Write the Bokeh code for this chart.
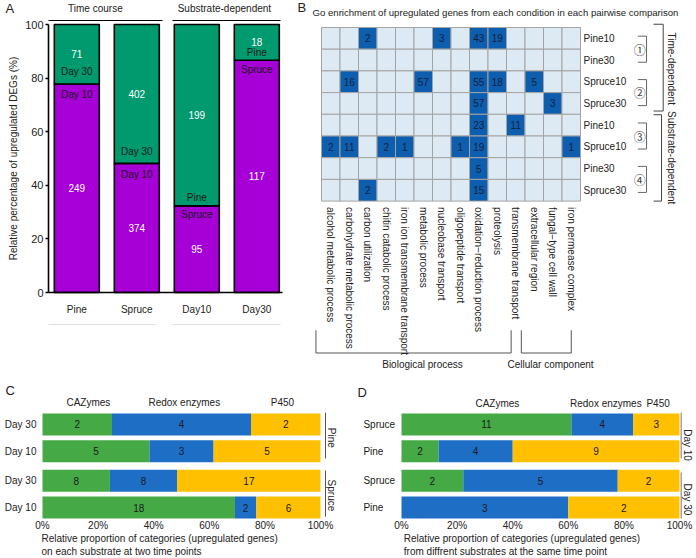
import math
from bokeh.plotting import figure
from bokeh.models import Range1d, LinearAxis, FixedTicker
from bokeh.layouts import column, row
from bokeh.embed import file_html
from bokeh.resources import INLINE
from bokeh.core.properties import value

# ---------------- data ----------------
# Panel A: counts of upregulated DEGs
a_groups = ["Pine", "Spruce", "Day10", "Day30"]
a_lower_names = ["Day 10", "Day 10", "Spruce", "Spruce"]
a_upper_names = ["Day 30", "Day 30", "Pine", "Pine"]
a_lower_counts = [249, 374, 95, 117]
a_upper_counts = [71, 402, 199, 18]
a_headers = ["Time course", "Substrate-dependent"]
a_ylabel = "Relative percentage of upregulated DEGs (%)"
a_yticks = [0, 20, 40, 60, 80, 100]

# Panel B: GO enrichment counts (0 = not enriched)
b_title = "Go enrichment of upregulated genes from each condition in each pairwise comparison"
go_terms = ["alcohol metabolic process", "carbohydrate metabolic process", "carbon utilization",
            "chitin catabolic process", "iron ion transmembrane transport", "metabolic process",
            "nucleobase transport", "oligopeptide transport", "oxidation\u2212reduction process",
            "proteolysis", "transmembrane transport", "extracellular region",
            "fungal\u2212type cell wall", "iron permease complex"]
b_rows = ["Pine10", "Pine30", "Spruce10", "Spruce30", "Pine10", "Spruce10", "Pine30", "Spruce30"]
cmp1_pine10   = [0, 0, 2, 0, 0, 0, 3, 0, 43, 19, 0, 0, 0, 0]
cmp1_pine30   = [0, 0, 0, 0, 0, 0, 0, 0, 0, 0, 0, 0, 0, 0]
cmp2_spruce10 = [0, 16, 0, 0, 0, 57, 0, 0, 55, 18, 0, 5, 0, 0]
cmp2_spruce30 = [0, 0, 0, 0, 0, 0, 0, 0, 57, 0, 0, 0, 3, 0]
cmp3_pine10   = [0, 0, 0, 0, 0, 0, 0, 0, 23, 0, 11, 0, 0, 0]
cmp3_spruce10 = [2, 11, 0, 2, 1, 0, 0, 1, 19, 0, 0, 0, 0, 1]
cmp4_pine30   = [0, 0, 0, 0, 0, 0, 0, 0, 5, 0, 0, 0, 0, 0]
cmp4_spruce30 = [0, 0, 2, 0, 0, 0, 0, 0, 15, 0, 0, 0, 0, 0]
b_comparisons = ["\u2460", "\u2461", "\u2462", "\u2463"]
b_blocks = ["Time-dependent", "Substrate-dependent"]
b_ontologies = ["Biological process", "Cellular component"]

# Panels C and D: enzyme classes
enzyme_classes = ["CAZymes", "Redox enzymes", "P450"]
c_rows = ["Day 30", "Day 10", "Day 30", "Day 10"]
c_groups = ["Pine", "Spruce"]
c_cazymes = [2, 5, 8, 18]
c_redox = [4, 3, 8, 2]
c_p450 = [2, 5, 17, 6]
c_caption = ["Relative proportion of categories (upregulated genes)",
             "on each substrate at two time points"]
d_rows = ["Spruce", "Pine", "Spruce", "Pine"]
d_groups = ["Day 10", "Day 30"]
d_cazymes = [11, 2, 2, 0]
d_redox = [4, 4, 5, 3]
d_p450 = [3, 9, 2, 2]
d_caption = ["Relative proportion of categories (upregulated genes)",
             "from diffrent substrates at the same time point"]
pct_ticks = [0, 20, 40, 60, 80, 100]

# ---------------- styles ----------------
FONT = value("Liberation Sans")
FS = "10px"
PURPLE = "#A600D6"
GREEN_A = "#009A6E"
GREEN = "#45AA45"
BLUE = "#1E6EC6"
YELLOW = "#FFC000"
LIGHT = "#DDEAF4"
DARK = "#0D5EAE"
TXT = "#222222"


def lin_range(ref_lo, ref_hi, ref_a, val_a, ref_b, val_b):
    k = (val_b - val_a) / (ref_b - ref_a)
    v1 = val_a + (ref_lo - ref_a) * k
    v2 = val_a + (ref_hi - ref_a) * k
    return Range1d(start=min(v1, v2), end=max(v1, v2))


def make_fig(x0, x1, y0, y1, xr, yr):
    p = figure(width=x1 - x0, height=y1 - y0,
               x_range=xr, y_range=yr, output_backend="svg", toolbar_location=None,
               x_axis_type=None, y_axis_type=None, min_border=0,
               min_border_left=0, min_border_right=0, min_border_top=0, min_border_bottom=0)
    p.outline_line_color = None
    p.background_fill_color = "white"
    p.border_fill_color = "white"
    return p


def txt(p, x, y, t, size=FS, color=TXT, align="center", baseline="middle",
        angle=0, yoff=0, font=FONT):
    p.text(x=x, y=y, text=t, text_font=font, text_font_size=value(size),
           text_color=color, text_align=align, text_baseline=baseline,
           angle=angle, y_offset=yoff)


def style_axis(ax, size=FS, standoff=4):
    ax.axis_line_color = None
    ax.major_tick_line_color = None
    ax.minor_tick_line_color = None
    ax.major_tick_out = 0
    ax.major_tick_in = 0
    ax.minor_tick_out = 0
    ax.minor_tick_in = 0
    ax.major_label_text_font = "Liberation Sans"
    ax.major_label_text_font_size = size
    ax.major_label_text_color = TXT
    ax.major_label_standoff = standoff


# ================= Panel A =================
axA_x = (48 - 76.3) / 60.0
axA_xend = (282 - 76.3) / 60.0
pA = make_fig(0, 295, 0, 382,
              lin_range(0, 295, 76.3, 0, 136.3, 1),
              lin_range(0, 382, 292, 0, 24, 100))
xa = list(range(len(a_groups)))
tot = [l + u for l, u in zip(a_lower_counts, a_upper_counts)]
lower_pct = [100.0 * l / t for l, t in zip(a_lower_counts, tot)]
pA.vbar(x=xa, bottom=0, top=lower_pct, width=0.75, fill_color=PURPLE,
        line_color="black", line_width=1.6)
pA.vbar(x=xa, bottom=lower_pct, top=100, width=0.75, fill_color=GREEN_A,
        line_color="black", line_width=1.6)
# counts in the segment centres
txt(pA, xa, [v / 2 for v in lower_pct], [str(c) for c in a_lower_counts], color="white")
txt(pA, xa, [(v + 100) / 2 for v in lower_pct], [str(c) for c in a_upper_counts], color="white")
# names either side of the boundary
txt(pA, xa[:2], lower_pct[:2], a_upper_names[:2], yoff=-12, color="#1A1A1A")
txt(pA, xa[:2], lower_pct[:2], a_lower_names[:2], yoff=11, color="#1A1A1A")
txt(pA, xa[2:], lower_pct[2:], a_upper_names[2:], yoff=-8, color="#1A1A1A")
txt(pA, xa[2:], lower_pct[2:], a_lower_names[2:], yoff=9, color="#1A1A1A")

yax = LinearAxis(fixed_location=axA_x, bounds=(0, 100), ticker=FixedTicker(ticks=a_yticks),
                 axis_label=a_ylabel)
yax.axis_line_width = 1.6
yax.major_tick_line_width = 1.5
yax.major_tick_in = 0
yax.major_tick_out = 3
yax.minor_tick_line_color = None
yax.minor_tick_out = 0
yax.major_label_text_font = "Liberation Sans"
yax.major_label_text_font_size = "11px"
yax.major_label_text_color = TXT
yax.major_label_standoff = 2
yax.axis_label_text_font = "Liberation Sans"
yax.axis_label_text_font_size = FS
yax.axis_label_text_font_style = "normal"
yax.axis_label_text_color = TXT
yax.axis_label_standoff = 3
pA.add_layout(yax, "left")

xax = LinearAxis(fixed_location=0, bounds=(axA_x, axA_xend), ticker=FixedTicker(ticks=xa),
                 major_label_overrides={i: g for i, g in enumerate(a_groups)})
style_axis(xax, standoff=11)
xax.axis_line_color = "black"
xax.axis_line_width = 1.6
pA.add_layout(xax, "below")

hdr_y = (292 - 8) / 2.68
line_y = (292 - 20) / 2.68
gray_y = (292 - 324) / 2.68
txt(pA, [0.31, 2.46], [hdr_y, hdr_y], a_headers)
pA.segment(x0=[axA_x, (172 - 76.3) / 60], y0=[line_y] * 2,
           x1=[(162 - 76.3) / 60, (280 - 76.3) / 60], y1=[line_y] * 2,
           line_color="black", line_width=1.2)
pA.segment(x0=[axA_x, (172 - 76.3) / 60], y0=[gray_y] * 2,
           x1=[(155 - 76.3) / 60, (280 - 76.3) / 60], y1=[gray_y] * 2,
           line_color="#DDDDDD", line_width=1)
txt(pA, [(5 - 76.3) / 60], [(292 - 8) / 2.68], ["A"], size="13px", align="left")

# ================= Panel B =================
pB = make_fig(295, 696, 0, 382,
              lin_range(295, 696, 321, 0, 580, 14),
              lin_range(0, 382, 200.6, 0, 27, 8))
b_matrix = [cmp1_pine10, cmp1_pine30, cmp2_spruce10, cmp2_spruce30,
            cmp3_pine10, cmp3_spruce10, cmp4_pine30, cmp4_spruce30]
nrow = len(b_rows)
cx, cy, cc, lx, ly, lt = [], [], [], [], [], []
for r, vals in enumerate(b_matrix):
    for c, v in enumerate(vals):
        cx.append(c + 0.5)
        cy.append(nrow - r - 0.5)
        cc.append(DARK if v > 0 else LIGHT)
        if v > 0:
            lx.append(c + 0.5)
            ly.append(nrow - r - 0.5)
            lt.append(str(v))
pB.rect(x=cx, y=cy, width=1, height=1, fill_color=cc, line_color="#A4A4A4", line_width=1)
txt(pB, lx, ly, lt, color="#14213D")

row_ticks = [nrow - r - 0.5 for r in range(nrow)]
rax = LinearAxis(fixed_location=len(go_terms), ticker=FixedTicker(ticks=row_ticks),
                 major_label_overrides={t: n for t, n in zip(row_ticks, b_rows)})
style_axis(rax, standoff=3)
pB.add_layout(rax, "right")

col_ticks = [c + 0.5 for c in range(len(go_terms))]
bax = LinearAxis(fixed_location=0, ticker=FixedTicker(ticks=col_ticks),
                 major_label_overrides={t: n for t, n in zip(col_ticks, go_terms)},
                 major_label_orientation=-math.pi / 2)
style_axis(bax, standoff=6)
pB.add_layout(bax, "below")

txt(pB, [-0.486], [8.69], [b_title], size="9.6px", align="left")
txt(pB, [-1.30], [8.92], ["B"], size="13px", align="left")

# comparison markers and small brackets
mids = [7, 5, 3, 1]
txt(pB, [17.2] * 4, mids, b_comparisons, size="12px", color="#444444",
    font=value("Noto Sans CJK JP"))
sx0, sy0, sx1, sy1 = [], [], [], []
for m in mids:
    sx0 += [17.57, 17.1, 17.1]
    sy0 += [m + 0.6, m + 0.6, m - 0.6]
    sx1 += [17.57, 17.57, 17.57]
    sy1 += [m - 0.6, m + 0.6, m - 0.6]
pB.segment(x0=sx0, y0=sy0, x1=sx1, y1=sy1, line_color="#666666", line_width=1)
# big brackets
pB.segment(x0=[18.47, 17.95, 17.95, 18.38, 17.95, 17.95],
           y0=[8.15, 8.15, 4.15, 3.98, 3.98, 0.0],
           x1=[18.47, 18.47, 18.47, 18.38, 18.38, 18.38],
           y1=[4.15, 8.15, 4.15, 0.0, 3.98, 0.0],
           line_color="#444444", line_width=1)
txt(pB, [18.92, 18.92], [6.1, 2.0], b_blocks, angle=-math.pi / 2)
# ontology brackets under the columns
pB.segment(x0=[-0.3, -0.3, 10.25, 10.8, 10.8, 13.5],
           y0=[-5.95, -7.0, -7.0, -5.95, -7.0, -7.0],
           x1=[-0.3, 10.25, 10.25, 10.8, 13.5, 13.5],
           y1=[-7.0, -7.0, -5.95, -7.0, -7.0, -5.95],
           line_color="#555555", line_width=1)
txt(pB, [5.46, 12.38], [-7.55, -7.55], b_ontologies)


# ================= Panels C and D =================
bar_pos = [3.1, 2.1, 1.0, 0.0]


def stacked(p, caz, red, p450):
    tots = [a + b + c for a, b, c in zip(caz, red, p450)]
    e1 = [100.0 * a / t for a, t in zip(caz, tots)]
    e2 = [100.0 * (a + b) / t for a, b, t in zip(caz, red, tots)]
    p.hbar(y=bar_pos, left=0, right=e1, height=0.82, fill_color=GREEN, line_color=None)
    p.hbar(y=bar_pos, left=e1, right=e2, height=0.82, fill_color=BLUE, line_color=None)
    p.hbar(y=bar_pos, left=e2, right=100, height=0.82, fill_color=YELLOW, line_color=None)
    xs, ys, ts = [], [], []
    for i in range(len(bar_pos)):
        for lo, hi, v in ((0, e1[i], caz[i]), (e1[i], e2[i], red[i]), (e2[i], 100, p450[i])):
            if v > 0:
                xs.append((lo + hi) / 2)
                ys.append(bar_pos[i])
                ts.append(str(v))
    txt(p, xs, ys, ts, color="#1A1A1A")
    ax = LinearAxis(fixed_location=-0.41, ticker=FixedTicker(ticks=pct_ticks),
                    major_label_overrides={t: f"{t}%" for t in pct_ticks})
    style_axis(ax, standoff=2)
    p.add_layout(ax, "below")


# Panel C
pC = make_fig(0, 348, 382, 558,
              lin_range(0, 348, 42, 0, 320, 100),
              lin_range(382, 558, 507, 0, 480.2, 1))
stacked(pC, c_cazymes, c_redox, c_p450)
lax = LinearAxis(fixed_location=0, ticker=FixedTicker(ticks=bar_pos),
                 major_label_overrides={t: n for t, n in zip(bar_pos, c_rows)})
style_axis(lax, standoff=6)
pC.add_layout(lax, "left")
txt(pC, [16.5, 51, 86.3], [3.92] * 3, enzyme_classes)
pC.segment(x0=[101.8, 101.8], y0=[3.54, 1.38], x1=[101.8, 101.8], y1=[1.83, -0.34],
           line_color="#555555", line_width=1)
txt(pC, [103.8, 103.8], [2.6, 0.45], c_groups, angle=-math.pi / 2)
txt(pC, [-13.3], [4.37], ["C"], size="13px", align="left")
txt(pC, [-0.36, -0.36], [-1.16, -1.64], c_caption, align="left")

# Panel D
pD = make_fig(348, 696, 382, 558,
              lin_range(348, 696, 401, 0, 679, 100),
              lin_range(382, 558, 507, 0, 480.2, 1))
stacked(pD, d_cazymes, d_redox, d_p450)
txt(pD, [-13.7] * 4, bar_pos, d_rows, align="left")
txt(pD, [34.5, 73.5, 92.3], [3.88] * 3, enzyme_classes)
pD.segment(x0=[100.6, 100.6], y0=[3.54, 1.31], x1=[100.6, 100.6], y1=[1.83, -0.41],
           line_color="#777777", line_width=1)
txt(pD, [102.9, 102.9], [2.33, 0.3], d_groups, angle=-math.pi / 2)
txt(pD, [-15.8], [4.29], ["D"], size="13px", align="left")
txt(pD, [0.83, 0.83], [-1.16, -1.64], d_caption, align="left")

layout = column(row(pA, pB, spacing=0), row(pC, pD, spacing=0), spacing=0)
open("out.html", "w").write(file_html(layout, INLINE))
